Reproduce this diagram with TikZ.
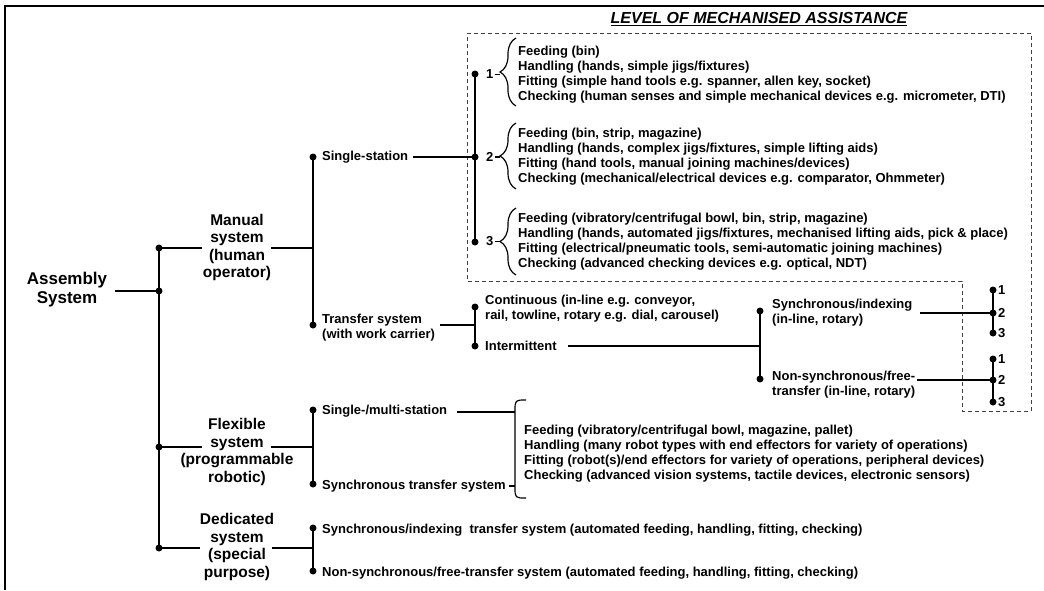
\documentclass[tikz,border=0pt]{standalone}
\usepackage{fontspec}
\setmainfont{Liberation Sans}
\usetikzlibrary{decorations.pathreplacing}
\begin{document}
\begin{tikzpicture}[x=1pt,y=-1pt,
  txt/.style={font=\bfseries\fontsize{13}{15}\selectfont, inner sep=0pt, anchor=west, align=left},
  big/.style={font=\bfseries\fontsize{15.5}{17.4}\selectfont, inner sep=0pt, align=center},
  dot/.style={circle, fill=black, inner sep=0pt, minimum size=7pt},
  tree/.style={line width=2pt},
  thin/.style={line width=1.2pt},
  brc/.style={line width=1.2pt, decorate, decoration={brace, amplitude=16pt}},
  dashbox/.style={line width=1pt, draw=black!75, dash pattern=on 4pt off 3pt}
]
\useasboundingbox (0,0) rectangle (1044,590);
\draw[line width=1.5pt] (5,590) -- (5,6) -- (1044,6);

% title and dashed region
\node[font=\bfseries\itshape\fontsize{16}{18}\selectfont, inner sep=0pt] (title) at (759,19) {\underline{LEVEL OF MECHANISED ASSISTANCE}};
\draw[dashbox] (467,33) -- (1031,33) -- (1031,411) -- (962,411) -- (962,281) -- (467,281) -- cycle;

% root
\node[font=\bfseries\fontsize{17}{19}\selectfont, align=center, inner sep=0pt] (asm) at (67,290) {Assembly\\System};
\coordinate (asmR) at (115,291);
\node[dot] (dM) at (159,248) {};
\node[dot] (dA) at (159,291) {};
\node[dot] (dF) at (159,447) {};
\node[dot] (dD) at (159,548) {};
\draw[tree] (dM.center) -- (dD.center);
\draw[tree] (asmR) -- (dA.center);

% level-1 labels
\node[big] (man) at (237,247.5) {Manual\\system\\(human\\operator)};
\node[big] (flx) at (237,452) {Flexible\\system\\(programmable\\robotic)};
\node[big] (ded) at (237,547) {Dedicated\\system\\(special\\purpose)};
\coordinate (mL) at (202,248); \coordinate (mR) at (271,248);
\coordinate (fL) at (202,447); \coordinate (fR) at (271,447);
\coordinate (eL) at (200,548); \coordinate (eR) at (272,548);
\coordinate (jM) at (313,248); \coordinate (jF) at (313,447); \coordinate (jD) at (313,548);
\draw[tree] (dM.center) -- (mL); \draw[tree] (mR) -- (jM);
\draw[tree] (dF.center) -- (fL); \draw[tree] (fR) -- (jF);
\draw[tree] (dD.center) -- (eL); \draw[tree] (eR) -- (jD);

% manual branch
\node[dot] (dSS) at (313,157) {};
\node[dot] (dTS) at (313,325) {};
\draw[tree] (dSS.center) -- (dTS.center);
\node[txt] (ss) at (322,157) {Single-station};
\node[txt] (ts) at (322,327.5) {Transfer system\\(with work carrier)};
\node[dot] (l1) at (475,74) {};
\node[dot] (l2) at (475,157) {};
\node[dot] (l3) at (475,242) {};
\draw[tree] (l1.center) -- (l3.center);
\coordinate (ssR) at (413,157);
\draw[tree] (ssR) -- (l2.center);
\node[txt] (n1) at (486,74.5) {1};
\node[txt] (n2) at (486,157) {2};
\node[txt] (n3) at (486,241.5) {3};
\draw[brc] (516,106) -- (516,38);
\draw[brc] (516,189) -- (516,123);
\draw[brc] (516,275) -- (516,208);
\coordinate (t1) at (500,74.5); \coordinate (t2) at (500,157); \coordinate (t3) at (500,241.5);
\draw[thin] (n1.east) ++(1,0) -- (t1);
\draw[thin] (n2.east) ++(1,0) -- (t2);
\draw[thin] (n3.east) ++(1,0) -- (t3);
\node[txt] (lv1) at (518,74.5) {Feeding (bin)\\Handling (hands, simple jigs/fixtures)\\Fitting (simple hand tools e.g. spanner, allen key, socket)\\Checking (human senses and simple mechanical devices e.g. micrometer, DTI)};
\node[txt] (lv2) at (518,157) {Feeding (bin, strip, magazine)\\Handling (hands, complex jigs/fixtures, simple lifting aids)\\Fitting (hand tools, manual joining machines/devices)\\Checking (mechanical/electrical devices e.g. comparator, Ohmmeter)};
\node[txt] (lv3) at (518,241.5) {Feeding (vibratory/centrifugal bowl, bin, strip, magazine)\\Handling (hands, automated jigs/fixtures, mechanised lifting aids, pick \& place)\\Fitting (electrical/pneumatic tools, semi-automatic joining machines)\\Checking (advanced checking devices e.g. optical, NDT)};

% transfer branch
\coordinate (tsR) at (440,325);
\node[dot] (dC) at (475,307) {};
\node[dot] (dI) at (475,346) {};
\draw[tree] (dC.center) -- (dI.center);
\draw[tree] (tsR) -- (475,325);
\node[txt] (cont) at (485,308.5) {Continuous (in-line e.g. conveyor,\\rail, towline, rotary e.g. dial, carousel)};
\node[txt] (inter) at (485,346) {Intermittent};
\coordinate (intR) at (568,346);
\node[dot] (dSy) at (760,311) {};
\node[dot] (dNs) at (760,379) {};
\draw[tree] (dSy.center) -- (dNs.center);
\draw[tree] (intR) -- (760,346);
\node[txt] (syn) at (772,312.5) {Synchronous/indexing\\(in-line, rotary)};
\node[txt] (nsy) at (772,384.5) {Non-synchronous/free-\\transfer (in-line, rotary)};
\coordinate (synR) at (920,313);
\coordinate (nsyR) at (917,380);
\node[dot] (a1) at (993,290) {};
\node[dot] (a2) at (993,313) {};
\node[dot] (a3) at (993,333) {};
\node[dot] (c1) at (993,359) {};
\node[dot] (c2) at (993,380) {};
\node[dot] (c3) at (993,402) {};
\draw[tree] (a1.center) -- (a3.center);
\draw[tree] (c1.center) -- (c3.center);
\draw[thin] (synR) -- (a2.center);
\draw[thin] (nsyR) -- (c2.center);
\node[txt] (a1t) at (998,290) {1};
\node[txt] (a2t) at (998,313) {2};
\node[txt] (a3t) at (998,333) {3};
\node[txt] (c1t) at (998,359) {1};
\node[txt] (c2t) at (998,380) {2};
\node[txt] (c3t) at (998,402) {3};

% flexible branch
\node[dot] (dSM) at (313,410) {};
\node[dot] (dST) at (313,484) {};
\draw[tree] (dSM.center) -- (dST.center);
\node[txt] (sm) at (322,411) {Single-/multi-station};
\node[txt] (st) at (322,486) {Synchronous transfer system};
\coordinate (smR) at (457,412);
\coordinate (smB) at (515,412);
\coordinate (stR) at (509,486);
\coordinate (stB) at (515,486);
\draw[thin] (smR) -- (smB);
\draw[thin] (stR) -- (stB);
\draw[thin] (526,400) .. controls (515,400) .. (515,411) -- (515,487) .. controls (515,498) .. (526,498);
\node[txt] (fx) at (524,453.5) {Feeding (vibratory/centrifugal bowl, magazine, pallet)\\Handling (many robot types with end effectors for variety of operations)\\Fitting (robot(s)/end effectors for variety of operations, peripheral devices)\\Checking (advanced vision systems, tactile devices, electronic sensors)};

% dedicated branch
\node[dot] (dD1) at (313,528) {};
\node[dot] (dD2) at (313,571) {};
\draw[tree] (dD1.center) -- (dD2.center);
\node[txt] (dd1) at (322,530) {Synchronous/indexing\ \ transfer system (automated feeding, handling, fitting, checking)};
\node[txt] (dd2) at (322,573) {Non-synchronous/free-transfer system (automated feeding, handling, fitting, checking)};
\end{tikzpicture}
\end{document}
